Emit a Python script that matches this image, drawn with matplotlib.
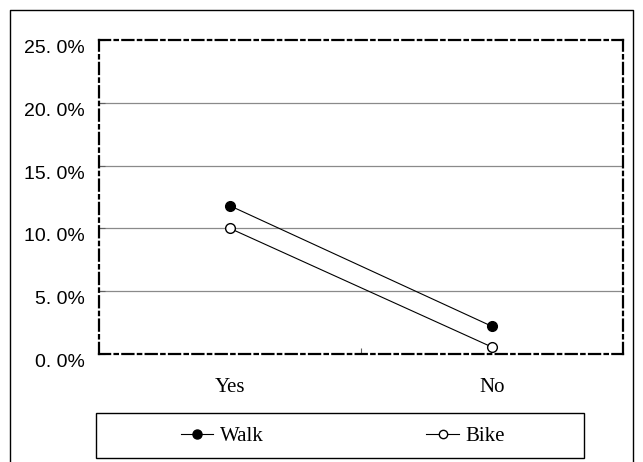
import matplotlib.pyplot as plt
from matplotlib.lines import Line2D
from matplotlib.patches import Rectangle

# data
categories = ["Yes", "No"]
walk = [11.8, 2.2]
bike = [10.0, 0.55]
y_ticks = [0, 5, 10, 15, 20, 25]
y_labels = ["0. 0%", "5. 0%", "10. 0%", "15. 0%", "20. 0%", "25. 0%"]

fig = plt.figure(figsize=(6.43, 4.62), dpi=100)
W, H = 643, 462

ax = fig.add_axes([99 / W, 1 - 354 / H, (623 - 99) / W, (354 - 40) / H])

x = list(range(len(categories)))
ax.plot(x, walk, color="black", lw=0.8, marker="o", ms=7,
        markerfacecolor="black", markeredgecolor="black", label="Walk")
ax.plot(x, bike, color="black", lw=0.8, marker="o", ms=7,
        markerfacecolor="white", markeredgecolor="black", label="Bike")

ax.set_xlim(-0.5, 1.5)
ax.set_ylim(0, 25)

# gridlines
for v in y_ticks[1:-1]:
    ax.axhline(v, color="#8a8a8a", lw=0.9, zorder=0)

ax.set_yticks(y_ticks)
# labels sit a little below their gridline in the original
ax.set_yticklabels(y_labels, family="Liberation Sans", fontsize=14, va="top")
ax.set_xticks([0.5])
ax.set_xticklabels([""])
ax.set_xticks(x, minor=True)
ax.set_xticklabels(categories, minor=True, family="Liberation Serif", fontsize=15)
ax.tick_params(axis="x", which="minor", length=0, pad=17)
ax.tick_params(axis="both", which="major", direction="in", length=4, width=0.8, color="#606060")
ax.tick_params(axis="y", pad=10)

for s in ax.spines.values():
    s.set_linestyle((0, (5, 2, 1.5, 2)))
    s.set_linewidth(1.6)
    s.set_color("black")

# legend box
fig.patches.append(Rectangle((96 / W, 1 - 458 / H), (584 - 96) / W, (458 - 413) / H,
                             transform=fig.transFigure, fill=False, edgecolor="black", lw=1))
handles = [Line2D([], [], color="black", lw=0.8, marker="o", ms=6.5, markerfacecolor="black"),
           Line2D([], [], color="black", lw=0.8, marker="o", ms=6, markerfacecolor="white")]
fig.legend(handles, ["Walk", "Bike"], loc="center left", bbox_to_anchor=(181 / W, 1 - 436 / H),
           ncol=2, frameon=False, borderpad=0, borderaxespad=0, handlelength=1.55,
           handletextpad=0.33, columnspacing=7.8, prop={"family": "Liberation Serif", "size": 15})

# outer border (bottom edge is cut off)
fig.add_artist(Line2D([10 / W, 10 / W, 633 / W, 633 / W], [0, 1 - 10 / H, 1 - 10 / H, 0],
                      transform=fig.transFigure, color="black", lw=1))

fig.savefig("out.png", dpi=100)
